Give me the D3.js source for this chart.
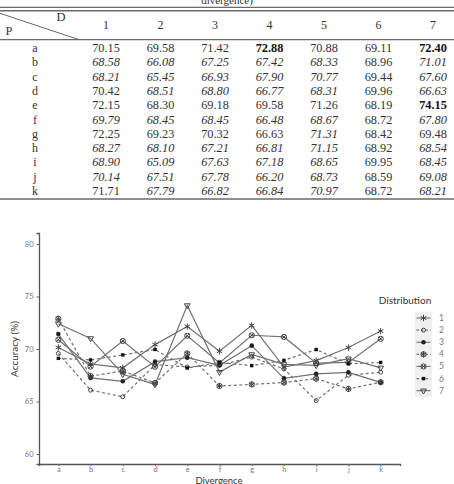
<!DOCTYPE html>
<html><head><meta charset="utf-8">
<script src="https://cdn.jsdelivr.net/npm/d3@7"></script>
<style>body{margin:0;background:#fff}svg{display:block}</style>
</head><body>
<svg id="c" width="454" height="484"></svg>
<script>
// ---- data ----
const categories = ["a","b","c","d","e","f","g","h","i","j","k"];
const distributions = ["1","2","3","4","5","6","7"];
const dist1 = [70.15,68.58,68.21,70.42,72.15,69.79,72.25,68.27,68.90,70.14,71.71];
const dist2 = [69.58,66.08,65.45,68.51,68.30,68.45,69.23,68.10,65.09,67.51,67.79];
const dist3 = [71.42,67.25,66.93,68.80,69.18,68.45,70.32,67.21,67.63,67.78,66.82];
const dist4 = [72.88,67.42,67.90,66.77,69.58,66.48,66.63,66.81,67.18,66.20,66.84];
const dist5 = [70.88,68.33,70.77,68.31,71.26,68.67,71.31,71.15,68.65,68.73,70.97];
const dist6 = [69.11,68.96,69.44,69.96,68.19,68.72,68.42,68.92,69.95,68.59,68.72];
const dist7 = [72.40,71.01,67.60,66.63,74.15,67.80,69.48,68.54,68.45,69.08,68.21];
// emphasis per table row (n = normal, i = italic, b = bold), one letter per distribution
const emphasis = ["nnnbnnb","iiiiini","iiiiini","niiiini","nnnnnnb","iiiiini","nnnninn","iiiiini","iiiiini","iiiiini","niiiini"];
const yTicks = [60,65,70,75,80];
const tableTitle = "divergence)";

const series = [dist1,dist2,dist3,dist4,dist5,dist6,dist7];
const svg = d3.select("#c");

// ---- table ----
const serif = "'Liberation Serif','DejaVu Serif',serif";
const tcol = d3.scalePoint().domain(distributions).range([106,433]);
const trow = d3.scalePoint().domain(categories).range([48,191]);
const ruleColor = "#6a6a6a";
svg.append("text").attr("x",227).attr("y",4).attr("text-anchor","middle")
  .attr("font-family",serif).attr("font-size",11).attr("fill","#333").text(tableTitle);
svg.append("line").attr("x1",0).attr("x2",454).attr("y1",7.3).attr("y2",7.3).attr("stroke",ruleColor).attr("stroke-width",1.2);
svg.append("line").attr("x1",0).attr("x2",454).attr("y1",10.7).attr("y2",10.7).attr("stroke",ruleColor).attr("stroke-width",1.4);
svg.append("line").attr("x1",0).attr("x2",454).attr("y1",39.6).attr("y2",39.6).attr("stroke",ruleColor).attr("stroke-width",1.2);
svg.append("line").attr("x1",0).attr("x2",454).attr("y1",199).attr("y2",199).attr("stroke",ruleColor).attr("stroke-width",1.4);
svg.append("line").attr("x1",0).attr("x2",78).attr("y1",13.3).attr("y2",39.3).attr("stroke","#555").attr("stroke-width",0.9);
svg.append("text").attr("x",61).attr("y",21).attr("text-anchor","middle").attr("font-family",serif).attr("font-size",12.5).attr("fill","#333").text("D");
svg.append("text").attr("x",9).attr("y",35).attr("text-anchor","middle").attr("font-family",serif).attr("font-size",12.5).attr("fill","#333").text("P");
svg.selectAll(".th").data(distributions).join("text")
  .attr("x",d=>tcol(d)).attr("y",29).attr("text-anchor","middle")
  .attr("font-family",serif).attr("font-size",12).attr("fill","#333").text(d=>d);
categories.forEach((c,ri)=>{
  svg.append("text").attr("x",35).attr("y",trow(c)+4).attr("text-anchor","middle")
    .attr("font-family",serif).attr("font-size",12).attr("fill","#333").text(c);
  distributions.forEach((dname,ci)=>{
    const e = emphasis[ri][ci];
    svg.append("text").attr("x",tcol(dname)).attr("y",trow(c)+4).attr("text-anchor","middle")
      .attr("font-family",serif).attr("font-size",12.3).attr("fill",e==="b"?"#111":"#333")
      .attr("font-style",e==="i"?"italic":"normal").attr("font-weight",e==="b"?"bold":"normal")
      .text(series[ci][ri].toFixed(2));
  });
});

// ---- chart ----
const sans = "Lato,'Open Sans',sans-serif";
const x = d3.scalePoint().domain(categories).range([39,400]).padding(0.6);
const y = d3.scaleLinear().domain([59.05,81.05]).range([464,233]);
const axisColor = "#555";

const gx = svg.append("g").attr("transform","translate(0,464)")
  .call(d3.axisBottom(x).tickSize(2).tickPadding(1));
const gy = svg.append("g").attr("transform","translate(39,0)")
  .call(d3.axisLeft(y).tickValues(yTicks).tickSize(2.5).tickPadding(3));
[gx,gy].forEach(g=>{
  g.select(".domain").attr("stroke",axisColor).attr("stroke-width",1.3);
  g.selectAll(".tick line").attr("stroke","#666");
  g.selectAll(".tick text").attr("fill","#777").attr("font-family",sans).attr("font-size",7.5);
});
svg.append("text").attr("x",219).attr("y",483.5).attr("text-anchor","middle")
  .attr("font-family",sans).attr("font-size",9.5).attr("fill","#333").text("Divergence");
svg.append("text").attr("transform","translate(18,349) rotate(-90)").attr("text-anchor","middle")
  .attr("font-family",sans).attr("font-size",10).attr("fill","#333").text("Accuracy (%)");

const dashes = [null,"3,2.5",null,"3,2.5",null,"3,2.5",null];
const lineColor = "#727272";
const markColor = "#444";

function drawMarker(g, k, cx, cy){
  const m = g.append("g").attr("transform",`translate(${cx},${cy})`);
  const st = (sel)=>sel.attr("fill","none").attr("stroke",markColor).attr("stroke-width",1);
  if(k===0){ st(m.append("path").attr("d",d3.symbol(d3.symbolAsterisk,28)())); }
  else if(k===1){ st(m.append("circle").attr("r",2)); }
  else if(k===2){ m.append("circle").attr("r",2.3).attr("fill","#222"); }
  else if(k===3){ st(m.append("circle").attr("r",2.6)); st(m.append("path").attr("d",d3.symbol(d3.symbolAsterisk,26)())); }
  else if(k===4){ st(m.append("circle").attr("r",2.6)); st(m.append("path").attr("d",d3.symbol(d3.symbolTimes,12)())); }
  else if(k===5){ m.append("rect").attr("x",-1.7).attr("y",-1.7).attr("width",3.4).attr("height",3.4).attr("fill","#111"); }
  else { st(m.append("path").attr("d",d3.symbol(d3.symbolTriangle2,24)()).attr("transform","rotate(180)")); }
}

const line = d3.line().x((d,i)=>x(categories[i])).y(d=>y(d));
series.forEach((s,k)=>{
  svg.append("path").attr("d",line(s)).attr("fill","none").attr("stroke",lineColor)
    .attr("stroke-width",1.2).attr("stroke-dasharray",dashes[k]);
});
series.forEach((s,k)=>{
  const g = svg.append("g");
  s.forEach((v,i)=>drawMarker(g,k,x(categories[i]),y(v)));
});

// legend
svg.append("text").attr("x",405).attr("y",304).attr("text-anchor","middle")
  .attr("font-family",sans).attr("font-size",10).attr("fill","#333").text("Distribution");
const ly = d3.scalePoint().domain(distributions).range([318,390.7]);
svg.append("rect").attr("x",415).attr("y",311.5).attr("width",17).attr("height",85.5).attr("fill","#f0f0f0");
distributions.forEach((dn,k)=>{
  const yy = ly(dn);
  svg.append("line").attr("x1",416.5).attr("x2",430.5).attr("y1",yy).attr("y2",yy)
    .attr("stroke",lineColor).attr("stroke-width",1.1).attr("stroke-dasharray",dashes[k]?"2.5,2":null);
  drawMarker(svg,k,423.5,yy);
  svg.append("text").attr("x",439).attr("y",yy+3).attr("font-family",sans).attr("font-size",8.5)
    .attr("fill","#777").text(dn);
});
</script>
</body></html>
